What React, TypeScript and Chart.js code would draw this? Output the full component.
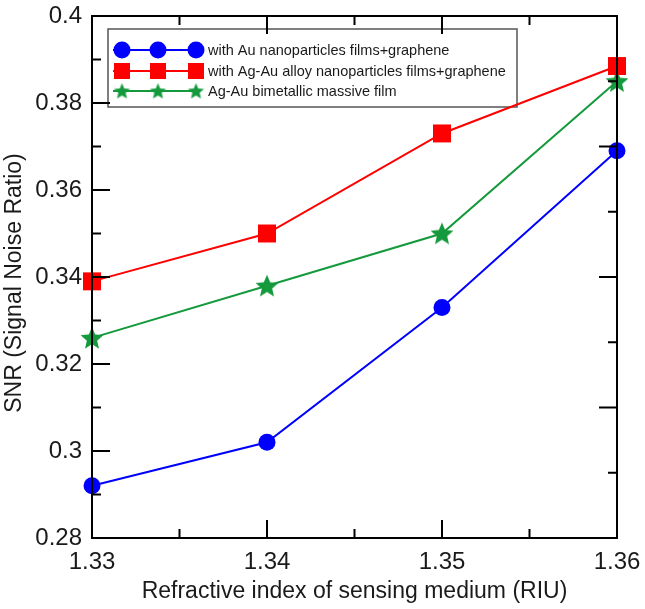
import React, { useEffect, useRef } from "react";
import { Chart, registerables } from "chart.js";

Chart.register(...registerables);

// ---- data ----
const refractiveIndex = [1.33, 1.34, 1.35, 1.36];
const auGraphene = [0.292, 0.302, 0.333, 0.369];
const agAuAlloyGraphene = [0.339, 0.35, 0.373, 0.3885];
const bimetallicFilm = [0.326, 0.338, 0.35, 0.385];

const seriesNames = [
  "with Au nanoparticles films+graphene",
  "with Ag-Au alloy nanoparticles films+graphene",
  "Ag-Au bimetallic massive film",
];

const xMajorTicks = [1.33, 1.34, 1.35, 1.36];
const xMinorTicks = [1.335, 1.345, 1.355];
const yLeftMajorTicks = [0.28, 0.3, 0.32, 0.34, 0.36, 0.38, 0.4];
const yLeftMinorTicks = [0.29, 0.31, 0.33, 0.35, 0.37, 0.39];
const yRightMajorTicks = [0.28, 0.31, 0.34, 0.37, 0.4];
const yRightMinorTicks = [0.295, 0.325, 0.355, 0.385];

const xTitle = "Refractive index of sensing medium (RIU)";
const yTitle = "SNR (Signal Noise Ratio)";

const BLUE = "#0000ff";
const RED = "#ff0000";
const GREEN = "#149a3c";
const FONT = "'Liberation Sans', Arial, sans-serif";
const TEXT = "#1a1a1a";

function makeStar(r: number, color: string): HTMLCanvasElement {
  const c = document.createElement("canvas");
  const s = Math.ceil(r * 2 + 2);
  c.width = s;
  c.height = s;
  const ctx = c.getContext("2d")!;
  const cx = s / 2;
  const cy = s / 2 + r * 0.08;
  const inner = r * 0.45;
  ctx.beginPath();
  for (let i = 0; i < 10; i++) {
    const rad = i % 2 === 0 ? r : inner;
    const a = -Math.PI / 2 + (i * Math.PI) / 5;
    const px = cx + rad * Math.cos(a);
    const py = cy + rad * Math.sin(a);
    if (i === 0) ctx.moveTo(px, py);
    else ctx.lineTo(px, py);
  }
  ctx.closePath();
  ctx.fillStyle = color;
  ctx.fill();
  return c;
}

const noPad = (s: any) => {
  s.paddingTop = 0;
  s.paddingBottom = 0;
  s.paddingLeft = 0;
  s.paddingRight = 0;
};

export default function App() {
  const ref = useRef<HTMLCanvasElement>(null);

  useEffect(() => {
    if (!ref.current) return;
    const bigStar = makeStar(12, GREEN);
    const smallStar = makeStar(8.5, GREEN);

    const framePlugin = {
      id: "framePlugin",
      beforeDatasetsDraw(chart: any) {
        const { ctx, chartArea } = chart;
        const bx = chartArea.left + 16;
        const by = chartArea.top + 13;
        const bw = 409;
        const bh = 78;
        ctx.save();
        ctx.fillStyle = "#ffffff";
        ctx.fillRect(bx, by, bw, bh);
        ctx.strokeStyle = "#555555";
        ctx.lineWidth = 1.5;
        ctx.strokeRect(bx, by, bw, bh);
        const rows = [by + 21, by + 42, by + 62];
        const colors = [BLUE, RED, GREEN];
        const markerX = [bx + 14, bx + 50, bx + 88];
        rows.forEach((ry, i) => {
          ctx.strokeStyle = colors[i];
          ctx.lineWidth = 2;
          ctx.beginPath();
          ctx.moveTo(bx + 5, ry);
          ctx.lineTo(bx + 92, ry);
          ctx.stroke();
          markerX.forEach((mx) => {
            ctx.fillStyle = colors[i];
            if (i === 0) {
              ctx.beginPath();
              ctx.arc(mx, ry, 8.5, 0, Math.PI * 2);
              ctx.fill();
            } else if (i === 1) {
              ctx.fillRect(mx - 8, ry - 8, 16, 16);
            } else {
              ctx.drawImage(smallStar, mx - smallStar.width / 2, ry - smallStar.height / 2);
            }
          });
          ctx.fillStyle = TEXT;
          ctx.font = `14.5px ${FONT}`;
          ctx.textAlign = "left";
          ctx.textBaseline = "middle";
          ctx.fillText(seriesNames[i], bx + 100, ry + 1);
        });
        ctx.restore();
      },
      afterDatasetsDraw(chart: any) {
        const { ctx, chartArea } = chart;
        const xs = chart.scales.x;
        const ys = chart.scales.y;
        const { left, right, top, bottom } = chartArea;
        ctx.save();
        ctx.strokeStyle = "#000000";
        ctx.lineWidth = 2;
        ctx.lineCap = "butt";
        const MAJ = 18;
        const MIN = 9;
        ctx.beginPath();
        yLeftMajorTicks.forEach((v) => {
          const y = ys.getPixelForValue(v);
          ctx.moveTo(left, y);
          ctx.lineTo(left + MAJ, y);
        });
        yLeftMinorTicks.forEach((v) => {
          const y = ys.getPixelForValue(v);
          ctx.moveTo(left, y);
          ctx.lineTo(left + MIN, y);
        });
        yRightMajorTicks.forEach((v) => {
          const y = ys.getPixelForValue(v);
          ctx.moveTo(right, y);
          ctx.lineTo(right - MAJ, y);
        });
        yRightMinorTicks.forEach((v) => {
          const y = ys.getPixelForValue(v);
          ctx.moveTo(right, y);
          ctx.lineTo(right - MIN, y);
        });
        xMajorTicks.forEach((v) => {
          const x = xs.getPixelForValue(v);
          ctx.moveTo(x, bottom);
          ctx.lineTo(x, bottom - MAJ);
          ctx.moveTo(x, top);
          ctx.lineTo(x, top + MAJ);
        });
        xMinorTicks.forEach((v) => {
          const x = xs.getPixelForValue(v);
          ctx.moveTo(x, bottom);
          ctx.lineTo(x, bottom - MIN);
          ctx.moveTo(x, top);
          ctx.lineTo(x, top + MIN);
        });
        ctx.stroke();
        ctx.strokeRect(left, top, right - left, bottom - top);

        // axis titles
        ctx.fillStyle = TEXT;
        ctx.font = `23px ${FONT}`;
        ctx.textAlign = "center";
        ctx.textBaseline = "middle";
        ctx.fillText(xTitle, (left + right) / 2, 592);
        ctx.translate(15, (top + bottom) / 2 + 6);
        ctx.rotate(-Math.PI / 2);
        ctx.fillText(yTitle, 0, 0);
        ctx.restore();
      },
    };

    const mk = (vals: number[]) => refractiveIndex.map((x, i) => ({ x, y: vals[i] }));

    const chart = new Chart(ref.current, {
      type: "line",
      data: {
        datasets: [
          {
            label: seriesNames[0],
            data: mk(auGraphene),
            borderColor: BLUE,
            backgroundColor: BLUE,
            borderWidth: 2,
            pointStyle: "circle",
            pointRadius: 8.5,
            pointBorderWidth: 0,
            pointBackgroundColor: BLUE,
            clip: false as any,
          },
          {
            label: seriesNames[1],
            data: mk(agAuAlloyGraphene),
            borderColor: RED,
            backgroundColor: RED,
            borderWidth: 2,
            pointStyle: "rect",
            pointRadius: 12.7,
            pointBorderWidth: 0,
            pointBackgroundColor: RED,
            clip: false as any,
          },
          {
            label: seriesNames[2],
            data: mk(bimetallicFilm),
            borderColor: GREEN,
            backgroundColor: GREEN,
            borderWidth: 2,
            pointStyle: bigStar as any,
            pointRadius: 12,
            pointBorderWidth: 0,
            clip: false as any,
          },
        ],
      },
      plugins: [framePlugin],
      options: {
        responsive: false,
        animation: false,
        devicePixelRatio: 1,
        layout: { padding: { top: 16, right: 28, left: 0, bottom: 0 } },
        plugins: {
          legend: { display: false },
          tooltip: { enabled: false },
        },
        scales: {
          x: {
            type: "linear",
            min: 1.33,
            max: 1.36,
            grid: { display: false, drawTicks: false },
            border: { display: false },
            ticks: {
              stepSize: 0.01,
              padding: 10,
              color: TEXT,
              font: { family: FONT, size: 24 },
              maxRotation: 0,
              callback: (v: any) => Number(v).toFixed(2),
            },
            afterFit: (s: any) => {
              s.height = 71;
              noPad(s);
            },
          },
          y: {
            type: "linear",
            min: 0.28,
            max: 0.4,
            grid: { display: false, drawTicks: false },
            border: { display: false },
            ticks: {
              stepSize: 0.02,
              padding: 10,
              color: TEXT,
              font: { family: FONT, size: 24 },
              callback: (v: any) =>
                Number(v).toFixed(2).replace(/0+$/, "").replace(/\.$/, ""),
            },
            afterFit: (s: any) => {
              s.width = 92;
              noPad(s);
            },
          },
        },
      },
    });
    return () => chart.destroy();
  }, []);

  return (
    <div style={{ position: "absolute", left: 0, top: 0, width: 645, height: 609, background: "#fff" }}>
      <canvas ref={ref} width={645} height={609} />
    </div>
  );
}
